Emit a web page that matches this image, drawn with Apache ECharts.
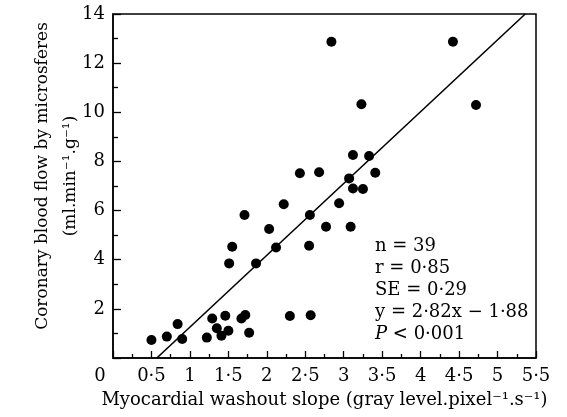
<!DOCTYPE html>
<html>
<head>
<meta charset="utf-8">
<script src="https://cdn.jsdelivr.net/npm/echarts@6/dist/echarts.min.js"></script>
<style>
  html, body { margin: 0; padding: 0; background: #fff; }
</style>
</head>
<body>
<div id="main" style="width: 567px;height:417px;"></div>
<script type="text/javascript">
// washout slope (x) vs blood flow (y), 39 points
var slopeX = [0.50, 0.70, 0.84, 0.90, 1.22, 1.29, 1.35, 1.41, 1.46, 1.50,
              1.51, 1.55, 1.67, 1.72, 1.71, 1.77, 1.86, 2.03, 2.12, 2.22,
              2.30, 2.56, 2.55, 2.57, 2.77, 2.94, 2.84, 2.43, 2.68, 4.42,
              3.23, 4.72, 3.12, 3.33, 3.41, 3.07, 3.12, 3.25, 3.09];
var flowY  = [0.73, 0.87, 1.38, 0.77, 0.83, 1.61, 1.21, 0.91, 1.72, 1.11,
              3.85, 4.53, 1.61, 1.75, 5.82, 1.03, 3.85, 5.25, 4.50, 6.26,
              1.71, 5.82, 4.57, 1.74, 5.34, 6.30, 12.87, 7.52, 7.56, 12.87,
              10.33, 10.30, 8.26, 8.22, 7.54, 7.31, 6.90, 6.88, 5.34];
// regression line as drawn
var fitX = [0.57, 5.36];
var fitY = [0, 14];
var statLines = ['n = 39', 'r = 0·85', 'SE = 0·29', 'y = 2·82x − 1·88'];

var font = 'DejaVu Serif';
var points = slopeX.map(function (x, i) { return [x, flowY[i]]; });
var fit = fitX.map(function (x, i) { return [x, fitY[i]]; });

var myChart = echarts.init(document.getElementById('main'));
var option = {
    animation: false,
    grid: {
        left: 113, right: 31, top: 14, bottom: 59,
        show: true, borderColor: '#000', borderWidth: 1.5
    },
    xAxis: {
        type: 'value', min: 0, max: 5.5, interval: 0.5,
        name: 'Myocardial washout slope (gray level.pixel⁻¹.s⁻¹)',
        nameLocation: 'middle', nameGap: 33,
        nameTextStyle: { fontFamily: font, fontSize: 18, color: '#000' },
        axisLine: { lineStyle: { color: '#000', width: 1.5 } },
        axisTick: { inside: true, length: 7, lineStyle: { color: '#000', width: 1.3 } },
        minorTick: { show: true, splitNumber: 2, length: 4, lineStyle: { color: '#000', width: 1.3 } },
        splitLine: { show: false },
        axisLabel: {
            margin: 9, fontFamily: font, fontSize: 18, color: '#000',
            formatter: function (v) {
                if (v === 0) return '{z|0}';
                return String(v).replace('.', '·');
            },
            rich: { z: { fontFamily: font, fontSize: 18, color: '#000', padding: [0, 26, 0, 0] } }
        }
    },
    yAxis: {
        type: 'value', min: 0, max: 14, interval: 2,
        name: 'Coronary blood flow by microsferes\n(ml.min⁻¹.g⁻¹)',
        nameLocation: 'middle', nameGap: 28, nameRotate: 90, nameMoveOverlap: false,
        nameTextStyle: { fontFamily: font, fontSize: 17, color: '#000', lineHeight: 28, padding: [0, 0, 0, 20] },
        axisLine: { lineStyle: { color: '#000', width: 1.5 } },
        axisTick: { inside: true, length: 8, lineStyle: { color: '#000', width: 1.3 } },
        minorTick: { show: true, splitNumber: 2, length: 5, lineStyle: { color: '#000', width: 1.3 } },
        splitLine: { show: false },
        axisLabel: {
            margin: 8, fontFamily: font, fontSize: 18, color: '#000',
            formatter: function (v) { return v === 0 ? '' : String(v); }
        }
    },
    graphic: [{
        type: 'text', left: 375, top: 235,
        style: {
            text: statLines.join('\n') + '\n{p|P} < 0·001',
            font: '18px "DejaVu Serif"', fill: '#000', lineHeight: 22,
            rich: { p: { fontFamily: font, fontSize: 18, fontStyle: 'italic', color: '#000' } }
        }
    }],
    series: [{
        type: 'scatter', data: points, symbolSize: 10,
        itemStyle: { color: '#000', opacity: 1 }, z: 3
    }, {
        type: 'line', data: fit, showSymbol: false, symbol: 'none',
        lineStyle: { color: '#000', width: 1.6 }, z: 2
    }]
};
myChart.setOption(option);
</script>
</body>
</html>
